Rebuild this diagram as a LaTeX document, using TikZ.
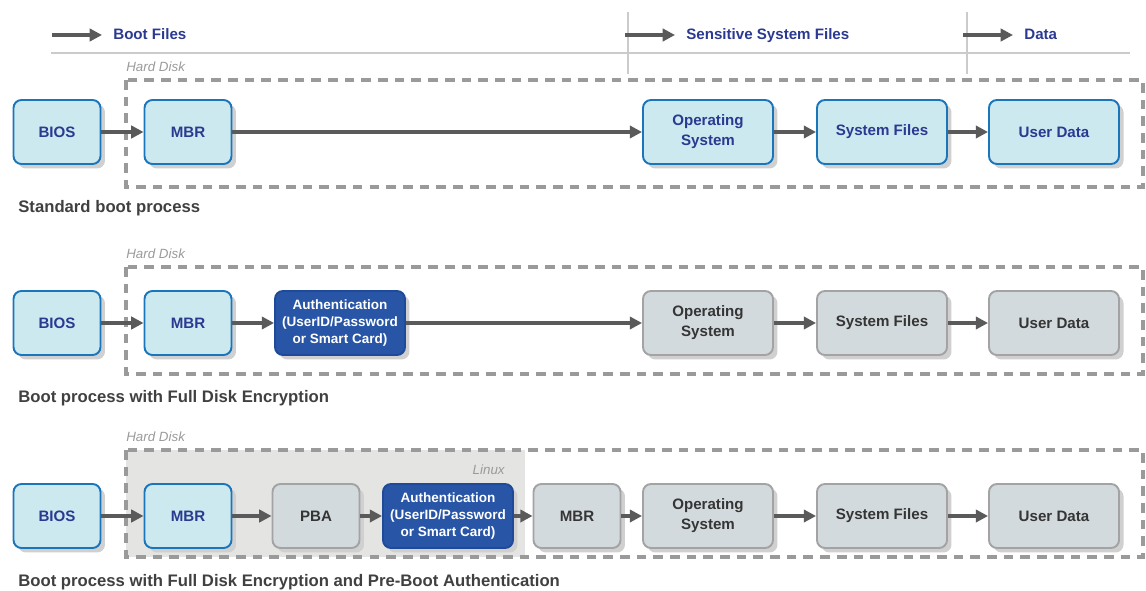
\documentclass[tikz,border=0pt]{standalone}
\usepackage{fontspec}
\setmainfont{Liberation Sans}
\usetikzlibrary{arrows.meta,shadows}

\definecolor{navy}{HTML}{2B3990}
\definecolor{boxblue}{HTML}{CCE9F0}
\definecolor{edgeblue}{HTML}{1B75BB}
\definecolor{boxgray}{HTML}{D3DADD}
\definecolor{edgegray}{HTML}{A3A3A3}
\definecolor{textgray}{HTML}{353535}
\definecolor{authblue}{HTML}{2855A6}
\definecolor{authedge}{HTML}{1E4A99}
\definecolor{arrowgray}{HTML}{5A5A5A}
\definecolor{dashgray}{HTML}{9A9A9A}
\definecolor{linegray}{HTML}{CBCBCB}
\definecolor{shadowgray}{HTML}{D0D0D0}
\definecolor{capgray}{HTML}{404040}
\definecolor{linuxgray}{HTML}{E4E4E2}

\begin{document}
\begin{tikzpicture}[x=0.02cm, y=-0.02cm,
	box/.style={rounded corners=4.5pt, line width=1.1pt, inner sep=0pt, minimum height=1.28cm, align=center,
		font=\bfseries\fontsize{8.6}{11.3}\selectfont,
		drop shadow={shadow xshift=0.09cm, shadow yshift=-0.09cm, fill=shadowgray, opacity=1}},
	narrow/.style={minimum width=1.74cm},
	wide/.style={minimum width=2.6cm},
	lbox/.style={box, fill=boxblue, draw=edgeblue, text=navy},
	gbox/.style={box, fill=boxgray, draw=edgegray, text=textgray},
	abox/.style={box, wide, fill=authblue, draw=authedge, text=white, font=\bfseries\fontsize{7.7}{9.6}\selectfont},
	flow/.style={draw=arrowgray, line width=1.8pt, -{Triangle[length=7pt,width=7pt]}},
	disk/.style={draw=dashgray, line width=2.2pt, dash pattern=on 5.5pt off 4pt},
	head/.style={anchor=base west, inner sep=0pt, text=navy, font=\bfseries\fontsize{8.6}{10}\selectfont},
	caption/.style={anchor=base west, inner sep=0pt, text=capgray, font=\bfseries\fontsize{9.5}{11}\selectfont},
	disklabel/.style={anchor=west, inner sep=0pt, text=dashgray, font=\itshape\fontsize{7.6}{9}\selectfont}]

	\useasboundingbox (0,0) rectangle (1146,591);

%header
	\draw[linegray, line width=0.9pt] (51,53) -- (1130,53);
	\draw[linegray, line width=0.9pt] (628,12) -- (628,74);
	\draw[linegray, line width=0.9pt] (967,12) -- (967,74);
	\foreach \x/\name/\txt in {52/boot/Boot Files, 625/sens/Sensitive System Files, 963/data/Data}{
		\coordinate (\name s) at (\x,35);
		\coordinate (\name e) at (\x+50,35);
		\draw[flow] (\name s) -- (\name e);
		\node[head] (\name) at (\x+61,40) {\txt};
	}

%hard disks
	\fill[linuxgray] (126,450) rectangle (525,557);
	\node[disklabel, anchor=east] (linux) at (505,470) {Linux};
	\foreach \y/\r in {80/1, 267/2, 450/3}{
		\draw[disk] (126,\y) rectangle (1143,\y+107);
		\node[disklabel] (disk\r) at (126,\y-13) {Hard Disk};
	}

%boxes common to all rows
	\foreach \y/\r/\st in {132/1/lbox, 323/2/gbox, 516/3/gbox}{
		\node[lbox, narrow] (bios\r) at (57,\y) {BIOS};
		\node[lbox, narrow] (mbr\r) at (188,\y) {MBR};
		\node[\st, wide] (os\r) at (708,\y) {Operating\\System};
		\node[\st, wide] (sf\r) at (882,\y) {System Files};
		\node[\st, wide] (ud\r) at (1054,\y) {User Data};
	}

%extra boxes
	\node[abox] (auth2) at (340,323) {Authentication\\(UserID/Password\\or Smart Card)};
	\node[gbox, narrow] (pba3) at (316,516) {PBA};
	\node[abox] (auth3) at (448,516) {Authentication\\(UserID/Password\\or Smart Card)};
	\node[gbox, narrow] (mbrb3) at (577,516) {MBR};

%arrows
	\draw[flow] (bios1) -- (mbr1);
	\draw[flow] (mbr1) -- (os1);
	\draw[flow] (os1) -- (sf1);
	\draw[flow] (sf1) -- (ud1);

	\draw[flow] (bios2) -- (mbr2);
	\draw[flow] (mbr2) -- (auth2);
	\draw[flow] (auth2) -- (os2);
	\draw[flow] (os2) -- (sf2);
	\draw[flow] (sf2) -- (ud2);

	\draw[flow] (bios3) -- (mbr3);
	\draw[flow] (mbr3) -- (pba3);
	\draw[flow] (pba3) -- (auth3);
	\draw[flow] (auth3) -- (mbrb3);
	\draw[flow] (mbrb3) -- (os3);
	\draw[flow] (os3) -- (sf3);
	\draw[flow] (sf3) -- (ud3);

%captions
	\node[caption] (cap1) at (18,213) {Standard boot process};
	\node[caption] (cap2) at (18,402) {Boot process with Full Disk Encryption};
	\node[caption] (cap3) at (18,586) {Boot process with Full Disk Encryption and Pre-Boot Authentication};

\end{tikzpicture}
\end{document}
